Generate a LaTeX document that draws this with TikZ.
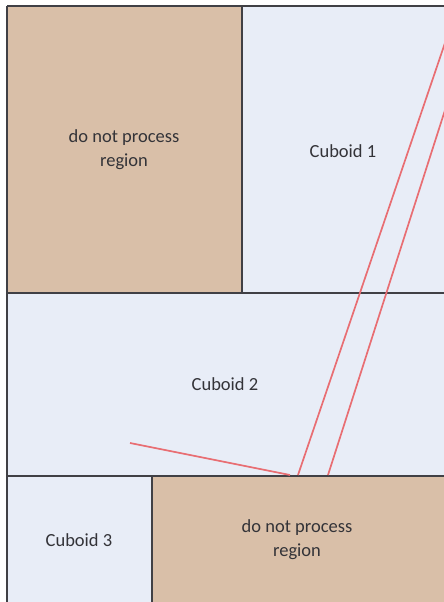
\documentclass[tikz,border=0pt]{standalone}
\usepackage{fontspec}
\setmainfont{Carlito}
\usepackage{xcolor}
\definecolor{tan}{rgb}{0.85,0.75,0.66}
\definecolor{pale}{rgb}{0.91,0.93,0.97}
\definecolor{edge}{rgb}{0.25,0.25,0.27}
\definecolor{ray}{rgb}{0.91,0.43,0.45}
\definecolor{ink}{rgb}{0.2,0.2,0.22}
\usetikzlibrary{arrows}

\begin{document}
\begin{tikzpicture}[x=1pt, y=-1pt]
\useasboundingbox (0,0) rectangle (444,602);
\clip (0,0) rectangle (444,602);
\fill[white] (0,0) rectangle (444,602);
\fill[tan] (7,6) rectangle (242,293);
\fill[pale] (242,6) rectangle (450,293);
\fill[pale] (7,293) rectangle (450,476);
\fill[pale] (7,476) rectangle (152,610);
\fill[tan] (152,476) rectangle (450,610);
\draw[edge,line width=1.6pt] (7,6)--(450,6);
\draw[edge,line width=1.6pt] (7,6)--(7,610);
\draw[edge,line width=1.6pt] (242,6)--(242,293);
\draw[edge,line width=1.6pt] (7,293)--(450,293);
\draw[edge,line width=1.6pt] (7,476)--(450,476);
\draw[edge,line width=1.6pt] (152,476)--(152,610);
\draw[ray,line width=1.7pt] (298,475)--(446,40);
\draw[ray,line width=1.7pt] (328,475)--(446,107);
\draw[ray,line width=1.7pt] (130,443)--(290,475);
\node[ink,font=\fontsize{18.5}{24}\selectfont,align=center] (skip1) at (124,150) {do not process\\region};
\node[ink,font=\fontsize{18.5}{24}\selectfont] (cub1) at (343,151) {Cuboid 1};
\node[ink,font=\fontsize{18.5}{24}\selectfont] (cub2) at (225,384) {Cuboid 2};
\node[ink,font=\fontsize{18.5}{24}\selectfont] (cub3) at (79,540) {Cuboid 3};
\node[ink,font=\fontsize{18.5}{24}\selectfont,align=center] (skip2) at (297,540) {do not process\\region};
\end{tikzpicture}
\end{document}
